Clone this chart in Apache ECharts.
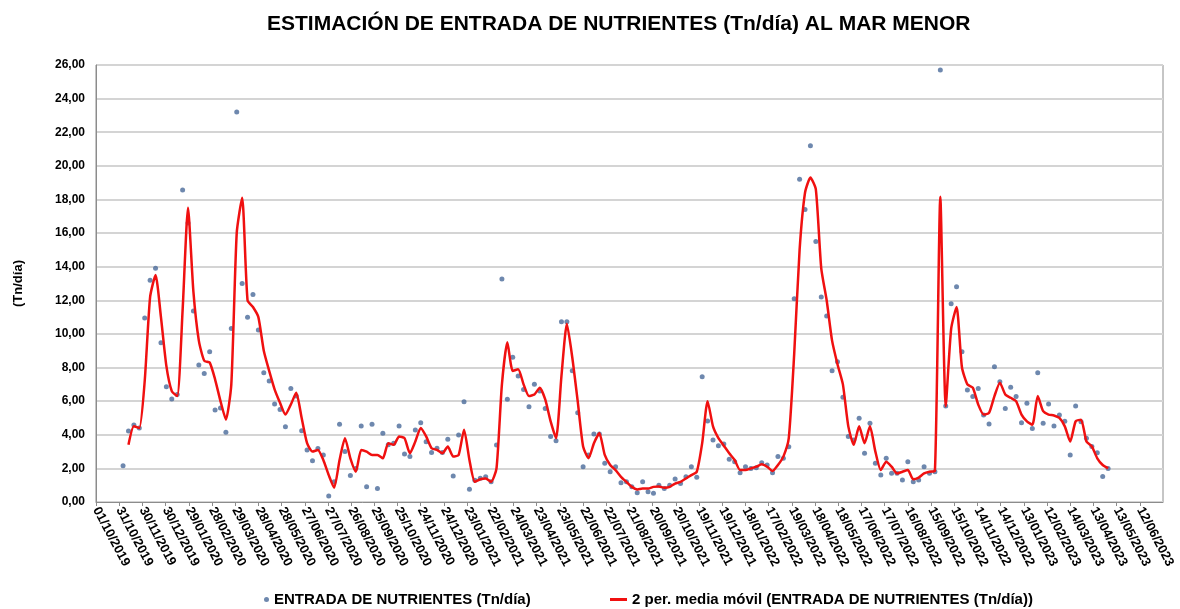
<!DOCTYPE html>
<html>
<head>
<meta charset="utf-8">
<script src="https://cdn.jsdelivr.net/npm/echarts@6/dist/echarts.min.js"></script>
<style>
html, body { margin: 0; padding: 0; background: #fff; }
#chart { width: 1180px; height: 609px; }
</style>
</head>
<body>
<div id="chart"></div>
<script>
// datos semanales (Tn/dia)
const primeraFecha = [2019, 10, 5]   // 05/11/2019, una medida por semana
const entrada = [
  2.16, 4.22, 4.58, 4.4, 10.95, 13.2, 13.9, 9.48, 6.86, 6.13,
  6.4, 18.56, 16.6, 11.36, 8.15, 7.65, 8.94, 5.47, 5.6, 4.15,
  10.33, 23.2, 13.0, 10.99, 12.35, 10.23, 7.69, 7.2, 5.83, 5.5,
  4.48, 6.76, 6.3, 4.24, 3.09, 2.46, 3.19, 2.8, 0.36, 1.2,
  4.62, 3.0, 1.57, 2.0, 4.52, 0.91, 4.62, 0.81, 4.09, 3.4,
  3.5, 4.52, 2.86, 2.7, 4.28, 4.72, 3.59, 2.95, 3.2, 2.95,
  3.73, 1.55, 3.99, 5.97, 0.76, 1.3, 1.41, 1.5, 1.21, 3.39,
  13.27, 6.11, 8.61, 7.5, 6.7, 5.67, 7.0, 6.6, 5.57, 3.89,
  3.65, 10.73, 10.73, 7.81, 5.31, 2.1, 2.8, 4.05, 4.05, 2.3,
  1.8, 2.1, 1.15, 1.2, 0.9, 0.55, 1.21, 0.61, 0.52, 1.0,
  0.8, 1.0, 1.37, 1.1, 1.5, 2.1, 1.47, 7.45, 4.82, 3.69,
  3.35, 3.45, 2.54, 2.4, 1.74, 2.1, 2.0, 2.04, 2.34, 2.2,
  1.74, 2.7, 2.6, 3.29, 12.1, 19.2, 17.4, 21.2, 15.5, 12.2,
  11.06, 7.81, 8.35, 6.23, 3.89, 3.69, 4.98, 2.9, 4.68, 2.3,
  1.61, 2.6, 1.71, 1.71, 1.31, 2.4, 1.21, 1.31, 2.1, 1.71,
  1.8, 25.7, 5.71, 11.8, 12.8, 8.94, 6.66, 6.27, 6.76, 5.18,
  4.64, 8.05, 7.16, 5.57, 6.82, 6.27, 4.72, 5.87, 4.38, 7.69,
  4.68, 5.83, 4.52, 5.18, 4.8, 2.8, 5.71, 4.78, 3.8, 3.3,
  2.93, 1.51, 2.0
]
// linea roja: media movil de 2 periodos, tal como aparece en el grafico
const mediaMovil = [
  null, 3.4, 4.5, 4.4, 7.2, 12.2, 13.5, 11.0, 8.1, 6.6,
  6.3, 11.4, 17.5, 12.5, 9.6, 8.4, 8.3, 7.3, 6.0, 4.9,
  7.0, 16.0, 18.1, 12.0, 11.6, 11.0, 9.0, 7.8, 6.7, 5.9,
  5.2, 5.8, 6.5, 5.0, 3.5, 3.0, 3.1, 2.5, 1.6, 0.85,
  2.5, 3.8, 2.6, 1.8, 3.1, 3.0, 2.8, 2.8, 2.6, 3.5,
  3.4, 3.9, 3.8, 2.9, 3.6, 4.4, 3.9, 3.2, 3.1, 2.9,
  3.3, 2.7, 2.8, 4.3, 2.5, 1.2, 1.35, 1.4, 1.2, 2.0,
  7.0, 9.5, 7.8, 7.9, 7.0, 6.3, 6.4, 6.8, 6.1, 4.8,
  3.8, 7.5, 10.6, 8.6, 6.0, 3.3, 2.6, 3.5, 4.1, 2.8,
  2.2, 1.9, 1.5, 1.2, 0.9, 0.75, 0.8, 0.8, 0.9, 0.92,
  0.85, 0.9, 1.1, 1.2, 1.4, 1.6, 1.8, 3.5, 6.0, 4.5,
  3.8, 3.35, 2.9, 2.5, 1.9, 1.9, 2.0, 2.1, 2.25, 2.1,
  1.85, 2.2, 2.7, 3.8, 8.8, 15.0, 18.4, 19.3, 18.6, 13.9,
  12.0, 9.6, 8.2, 7.0, 4.5, 3.4, 4.5, 3.5, 4.5, 3.0,
  1.9, 2.4, 2.1, 1.7, 1.8, 1.9, 1.35, 1.45, 1.7, 1.8,
  1.85, 18.16, 5.7, 10.3, 11.6, 8.0, 7.0, 6.8, 5.8, 5.2,
  5.3, 6.3, 7.1, 6.4, 6.2, 6.0, 5.2, 4.8, 4.6, 6.3,
  5.4, 5.2, 5.15, 5.0, 4.5, 3.6, 4.8, 4.9, 3.6, 3.3,
  2.6, 2.2, 2.0
]
const origenEje = [2019, 9, 1]   // 01/10/2019
const diasEje = 1380
const pasoEtiquetas = 30
const yTicks = [0, 26, 2]

const DIA = 86400000
const t0 = Date.UTC(origenEje[0], origenEje[1], origenEje[2])
const tInicio = Date.UTC(primeraFecha[0], primeraFecha[1], primeraFecha[2])

function diaEje(i) {
    return (tInicio + i * 7 * DIA - t0) / DIA
}

function fechaTexto(d) {
    let f = new Date(t0 + d * DIA)
    let dd = String(f.getUTCDate()).padStart(2, '0')
    let mm = String(f.getUTCMonth() + 1).padStart(2, '0')
    return dd + '/' + mm + '/' + f.getUTCFullYear()
}

let puntos = entrada.map((v, i) => [diaEje(i), v])
let linea = []
mediaMovil.forEach((v, i) => {
    if (v !== null) linea.push([diaEje(i), v])
})

const fuente = 'Liberation Sans'

let option = {
    animation: false,
    title: {
        text: 'ESTIMACIÓN DE ENTRADA DE NUTRIENTES (Tn/día) AL MAR MENOR',
        left: 262,
        top: 9,
        textStyle: { fontFamily: fuente, fontSize: 21, fontWeight: 'bold', color: '#000' }
    },
    grid: {
        left: 96,
        right: 17,
        top: 65,
        bottom: 107,
        show: true,
        borderColor: '#8c8c8c',
        borderWidth: 1
    },
    xAxis: {
        type: 'value',
        min: 0,
        max: diasEje,
        interval: pasoEtiquetas,
        axisLine: { lineStyle: { color: '#8c8c8c' } },
        axisTick: { show: true, length: 4, lineStyle: { color: '#8c8c8c' } },
        splitLine: { show: false },
        axisLabel: {
            rotate: -62,
            margin: 6,
            showMaxLabel: false,
            fontFamily: fuente,
            fontSize: 13,
            fontWeight: 'bold',
            color: '#000',
            formatter: fechaTexto
        }
    },
    yAxis: {
        type: 'value',
        min: yTicks[0],
        max: yTicks[1],
        interval: yTicks[2],
        name: '(Tn/día)',
        nameLocation: 'middle',
        nameRotate: 90,
        nameGap: 71,
        nameTextStyle: { fontFamily: fuente, fontSize: 13, fontWeight: 'bold', color: '#000' },
        axisLine: { show: true, lineStyle: { color: '#8c8c8c' } },
        axisTick: { show: false },
        splitLine: { lineStyle: { color: '#d4d4d4', width: 2 } },
        axisLabel: {
            margin: 11,
            fontFamily: fuente,
            fontSize: 12,
            fontWeight: 'bold',
            color: '#000',
            formatter: v => v.toFixed(2).replace('.', ',')
        }
    },
    legend: [
        {
            data: [{ name: 'ENTRADA DE NUTRIENTES (Tn/día)', icon: 'circle' }],
            left: 259,
            top: 587,
            itemWidth: 5,
            itemHeight: 5,
            itemGap: 6,
            textStyle: { fontFamily: fuente, fontSize: 15, fontWeight: 'bold', color: '#000' }
        },
        {
            data: [{ name: '2 per. media móvil (ENTRADA DE NUTRIENTES (Tn/día))', icon: 'rect' }],
            left: 605,
            top: 587,
            itemWidth: 17,
            itemHeight: 3,
            itemGap: 2,
            textStyle: { fontFamily: fuente, fontSize: 15, fontWeight: 'bold', color: '#000' }
        }
    ],
    series: [
        {
            name: 'ENTRADA DE NUTRIENTES (Tn/día)',
            type: 'scatter',
            data: puntos,
            symbol: 'circle',
            symbolSize: 5,
            itemStyle: { color: '#4a6a9a' }
        },
        {
            name: '2 per. media móvil (ENTRADA DE NUTRIENTES (Tn/día))',
            type: 'line',
            data: linea,
            showSymbol: false,
            smooth: 0.2,
            lineStyle: { color: '#f01010', width: 2.5 },
            itemStyle: { color: '#f01010' }
        }
    ]
}

let myChart = echarts.init(document.getElementById('chart'))
myChart.setOption(option)
</script>
</body>
</html>
